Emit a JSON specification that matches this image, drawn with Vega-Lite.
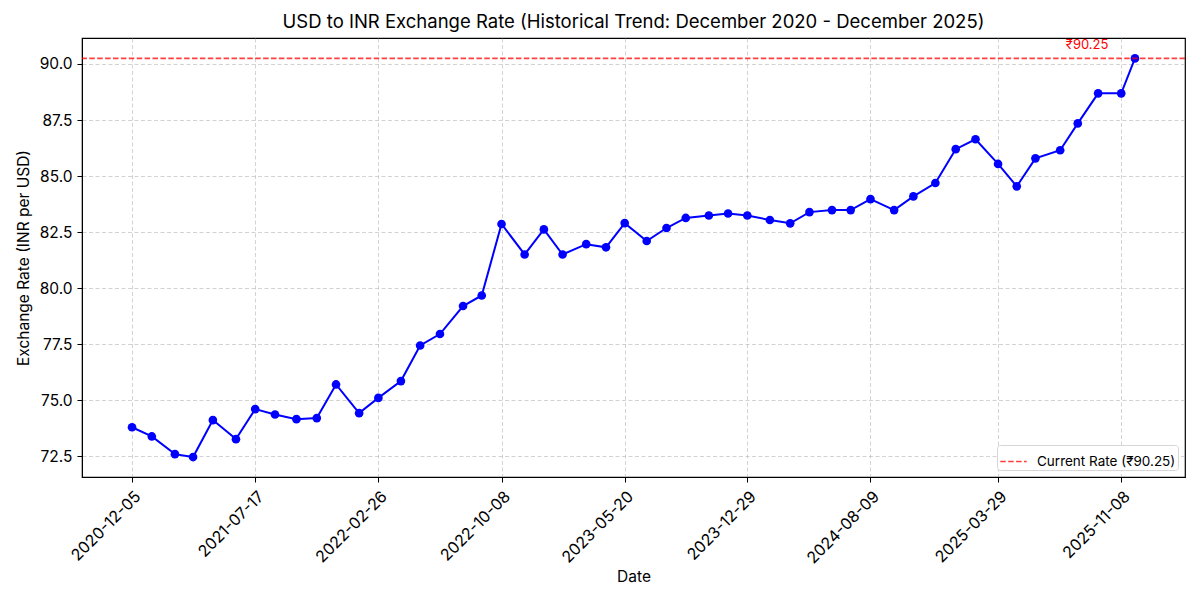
{
  "$schema": "https://vega.github.io/schema/vega-lite/v6.json",
  "autosize": {"type": "none"},
  "width": 1103,
  "height": 439,
  "padding": {"left": 82, "top": 38, "right": 15, "bottom": 123},
  "background": "white",
  "title": {
    "text": "USD to INR Exchange Rate (Historical Trend: December 2020 - December 2025)",
    "font": "Inter",
    "fontSize": 18.5,
    "fontWeight": "normal",
    "color": "black",
    "anchor": "middle",
    "offset": 7
  },
  "datasets": {
    "rates": [
      {"date": "2020-12-05", "rate": 73.79},
      {"date": "2021-01-10", "rate": 73.38},
      {"date": "2021-02-21", "rate": 72.59},
      {"date": "2021-03-26", "rate": 72.46},
      {"date": "2021-05-01", "rate": 74.11},
      {"date": "2021-06-12", "rate": 73.26},
      {"date": "2021-07-17", "rate": 74.60},
      {"date": "2021-08-22", "rate": 74.36},
      {"date": "2021-09-30", "rate": 74.15},
      {"date": "2021-11-06", "rate": 74.20},
      {"date": "2021-12-11", "rate": 75.70},
      {"date": "2022-01-22", "rate": 74.42},
      {"date": "2022-02-26", "rate": 75.10},
      {"date": "2022-04-08", "rate": 75.85},
      {"date": "2022-05-13", "rate": 77.44},
      {"date": "2022-06-18", "rate": 77.95},
      {"date": "2022-07-30", "rate": 79.20},
      {"date": "2022-09-02", "rate": 79.67},
      {"date": "2022-10-08", "rate": 82.86},
      {"date": "2022-11-19", "rate": 81.50},
      {"date": "2022-12-24", "rate": 82.62},
      {"date": "2023-01-27", "rate": 81.50},
      {"date": "2023-03-11", "rate": 81.96},
      {"date": "2023-04-16", "rate": 81.82},
      {"date": "2023-05-20", "rate": 82.90},
      {"date": "2023-06-29", "rate": 82.10},
      {"date": "2023-08-04", "rate": 82.68},
      {"date": "2023-09-08", "rate": 83.13},
      {"date": "2023-10-20", "rate": 83.24},
      {"date": "2023-11-24", "rate": 83.33},
      {"date": "2023-12-29", "rate": 83.24},
      {"date": "2024-02-08", "rate": 83.04},
      {"date": "2024-03-16", "rate": 82.89},
      {"date": "2024-04-20", "rate": 83.39},
      {"date": "2024-05-31", "rate": 83.48},
      {"date": "2024-07-04", "rate": 83.48},
      {"date": "2024-08-09", "rate": 83.97},
      {"date": "2024-09-21", "rate": 83.48},
      {"date": "2024-10-26", "rate": 84.09},
      {"date": "2024-12-05", "rate": 84.69},
      {"date": "2025-01-11", "rate": 86.20},
      {"date": "2025-02-16", "rate": 86.64},
      {"date": "2025-03-29", "rate": 85.54},
      {"date": "2025-05-02", "rate": 84.54},
      {"date": "2025-06-05", "rate": 85.79},
      {"date": "2025-07-20", "rate": 86.15},
      {"date": "2025-08-21", "rate": 87.35},
      {"date": "2025-09-27", "rate": 88.69},
      {"date": "2025-11-08", "rate": 88.69},
      {"date": "2025-12-03", "rate": 90.25}
    ],
    "current": [
      {"label": "Current Rate (₹90.25)", "note": "₹90.25", "date": "2025-09-07", "rate": 90.25}
    ]
  },
  "encoding": {
    "x": {
      "field": "date",
      "type": "temporal",
      "title": "Date",
      "scale": {
        "type": "utc",
        "domain": [
          {"year": 2020, "month": 9, "date": 5, "utc": true},
          {"year": 2026, "month": 3, "date": 4, "utc": true}
        ]
      },
      "axis": {
        "values": [
          {"year": 2020, "month": 12, "date": 5, "utc": true},
          {"year": 2021, "month": 7, "date": 17, "utc": true},
          {"year": 2022, "month": 2, "date": 26, "utc": true},
          {"year": 2022, "month": 10, "date": 8, "utc": true},
          {"year": 2023, "month": 5, "date": 20, "utc": true},
          {"year": 2023, "month": 12, "date": 29, "utc": true},
          {"year": 2024, "month": 8, "date": 9, "utc": true},
          {"year": 2025, "month": 3, "date": 29, "utc": true},
          {"year": 2025, "month": 11, "date": 8, "utc": true}
        ],
        "format": "%Y-%m-%d",
        "labelAngle": -45,
        "labelAlign": "right",
        "labelBaseline": "top",
        "labelPadding": 6,
        "labelFontSize": 16,
        "titlePadding": 3
      }
    },
    "y": {
      "field": "rate",
      "type": "quantitative",
      "title": "Exchange Rate (INR per USD)",
      "scale": {"domain": [71.57, 91.16], "nice": false, "zero": false},
      "axis": {
        "values": [72.5, 75, 77.5, 80, 82.5, 85, 87.5, 90],
        "format": ".1f",
        "labelPadding": 5,
        "titlePadding": 8
      }
    }
  },
  "layer": [
    {
      "data": {"name": "rates"},
      "mark": {
        "type": "line",
        "color": "#0000ff",
        "strokeWidth": 2,
        "point": {"filled": true, "size": 75, "color": "#0000ff", "opacity": 1}
      }
    },
    {
      "data": {"name": "current"},
      "mark": {"type": "rule", "strokeDash": [5.5, 2.4], "strokeWidth": 1.6, "opacity": 0.75},
      "encoding": {
        "x": null,
        "y": {"field": "rate", "type": "quantitative"},
        "color": {
          "field": "label",
          "type": "nominal",
          "scale": {"range": ["#ff0000"]},
          "legend": {
            "title": null,
            "orient": "bottom-right",
            "offset": 7,
            "symbolType": "stroke",
            "symbolSize": 700,
            "symbolStrokeWidth": 1.6,
            "symbolDash": [5.5, 2.4],
            "symbolOpacity": 0.75,
            "labelFont": "Inter",
            "labelFontSize": 13.5,
            "labelColor": "black",
            "labelOffset": 9,
            "padding": 2,
            "fillColor": "white",
            "strokeColor": "#d6d6d6",
            "cornerRadius": 3
          }
        }
      }
    },
    {
      "data": {"name": "current"},
      "mark": {"type": "text", "color": "#ff0000", "font": "Inter", "fontSize": 13, "baseline": "bottom", "align": "center", "dy": -6},
      "encoding": {
        "text": {"field": "note", "type": "nominal"}
      }
    }
  ],
  "config": {
    "view": {"stroke": "black", "strokeWidth": 1.2},
    "axis": {
      "labelFont": "Inter",
      "labelFontSize": 15.5,
      "labelColor": "black",
      "titleFont": "Inter",
      "titleFontSize": 15.5,
      "titleFontWeight": "normal",
      "titleColor": "black",
      "domainColor": "black",
      "tickColor": "black",
      "tickSize": 5,
      "gridColor": "#b0b0b0",
      "gridOpacity": 0.7,
      "gridDash": [4, 2.5],
      "gridWidth": 0.8
    }
  }
}
